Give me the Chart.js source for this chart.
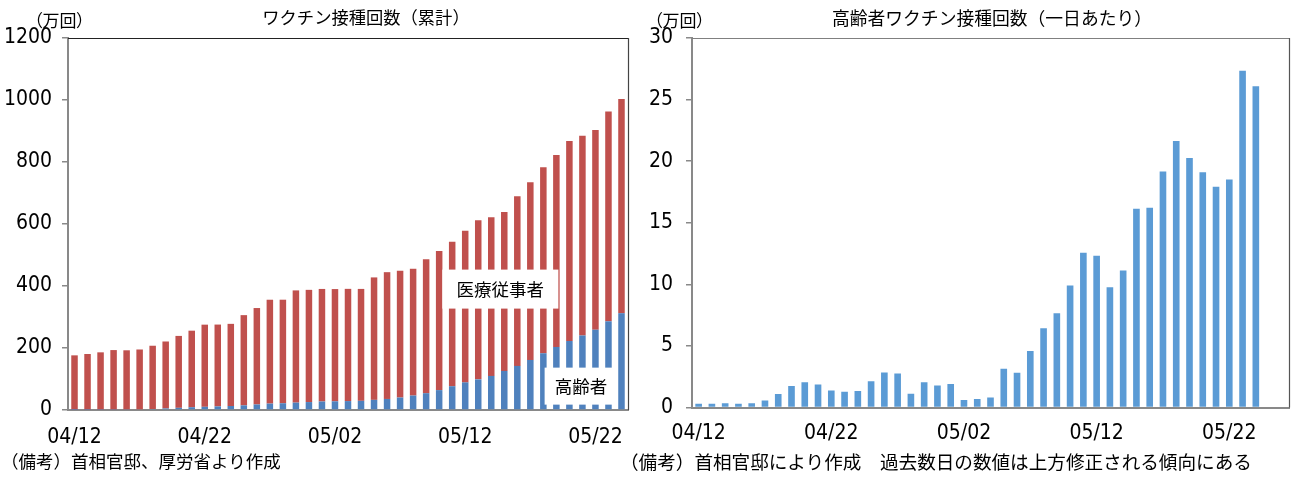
<!DOCTYPE html>
<html><head><meta charset="utf-8">
<script src="https://cdn.jsdelivr.net/npm/chart.js@4.4.0/dist/chart.umd.min.js"></script>
<style>
html,body{margin:0;padding:0;background:#fff;width:1300px;height:482px;overflow:hidden;position:relative;}
canvas{position:absolute;top:0;}
.t{position:absolute;font-family:"Noto Sans CJK JP",sans-serif;color:#000;white-space:nowrap;line-height:24px;height:24px;}
.c{text-align:center;width:500px;}
</style></head><body>
<canvas id="c1" width="650" height="482" style="left:0"></canvas>
<canvas id="c2" width="650" height="482" style="left:650px"></canvas>
<div class="t" style="left:34px;top:8px;font-size:17px;font-feature-settings:'palt'">（万回）</div>
<div class="t c" style="left:116px;top:5px;font-size:17.3px">ワクチン接種回数（累計）</div>
<div class="t" style="left:654px;top:8px;font-size:17px;font-feature-settings:'palt'">（万回）</div>
<div class="t c" style="left:742px;top:5px;font-size:17.8px">高齢者ワクチン接種回数（一日あたり）</div>
<div class="t" style="left:1px;top:449px;font-size:17.5px">（備考）首相官邸、厚労省より作成</div>
<div class="t" style="left:620px;top:449px;font-size:18.6px">（備考）首相官邸により作成　過去数日の数値は上方修正される傾向にある</div>
<script>
const dates = ["04/12","04/13","04/14","04/15","04/16","04/17","04/18","04/19","04/20","04/21",
  "04/22","04/23","04/24","04/25","04/26","04/27","04/28","04/29","04/30","05/01",
  "05/02","05/03","05/04","05/05","05/06","05/07","05/08","05/09","05/10","05/11",
  "05/12","05/13","05/14","05/15","05/16","05/17","05/18","05/19","05/20","05/21",
  "05/22","05/23","05/24","05/25","05/26"];
// cumulative (万回)
const elderlyCum = [0.3,0.6,1.0,1.3,1.6,2.2,3.3,5.0,7.0,8.9,
  10.3,11.6,12.9,15.0,17.9,20.7,21.8,23.8,25.6,27.5,
  28.1,28.8,29.6,32.7,35.6,40.2,46.6,54.2,64.2,76.7,
  89.1,98.8,110.0,126.1,142.3,161.5,183.1,203.4,222.5,240.4,
  258.9,286.2,312.3];
const medicalCum = [176,180,185,192,191,193,204,216,232,247,
  265,264,265,291,311,335,334,362,362,363,
  362,362,361,395,409,409,409,432,449,466,
  489,513,512,513,547,573,600,619,645,644,
  644,677,691];
// daily elderly (万回)
const elderlyDaily = [0.3,0.3,0.35,0.3,0.35,0.57,1.09,1.74,2.04,1.87,
  1.38,1.28,1.33,2.14,2.85,2.77,1.11,2.04,1.79,1.90,
  0.6,0.68,0.81,3.15,2.82,4.59,6.43,7.66,9.91,12.57,
  12.33,9.77,11.13,16.13,16.21,19.17,21.64,20.26,19.09,17.92,
  18.52,27.34,26.09];
const leftCategoryCount = 43;
const rightCategoryCount = 45;
const leftNames = ["高齢者","医療従事者"];

const tickFont = {family:'"Liberation Sans Narrow","DejaVu Sans Condensed",sans-serif', size:21};
const axisGray = '#898989';

function framePlugin(topColor, rightColor){
  return {id:'frame', afterDatasetsDraw(chart){
    const {ctx, chartArea:a} = chart;
    ctx.save(); ctx.lineWidth = 1.2;
    ctx.strokeStyle = topColor; ctx.beginPath(); ctx.moveTo(a.left, a.top+0.5); ctx.lineTo(a.right+1, a.top+0.5); ctx.stroke();
    ctx.strokeStyle = rightColor; ctx.beginPath(); ctx.moveTo(a.right+0.5, a.top); ctx.lineTo(a.right+0.5, a.bottom); ctx.stroke();
    ctx.restore();
  }};
}
function notesPlugin(items){
  return {id:'notes', afterDatasetsDraw(chart){
    const {ctx} = chart; const xs = chart.scales.x, ys = chart.scales.y;
    ctx.save();
    items.forEach(it=>{
      const cx = xs.getPixelForValue(it.x), cy = ys.getPixelForValue(it.y);
      ctx.fillStyle = '#fff'; ctx.fillRect(cx-it.w/2, cy-it.h/2, it.w, it.h);
      ctx.fillStyle = '#000'; ctx.font = '17.5px "Noto Sans CJK JP"';
      ctx.textAlign = 'center'; ctx.textBaseline = 'middle';
      ctx.fillText(it.text, cx, cy);
    });
    ctx.restore();
  }};
}
function xScale(height, pad){
  return {
    grid:{display:false},
    border:{display:true, color:axisGray, width:2},
    ticks:{autoSkip:false, maxRotation:0, minRotation:0, padding:pad, color:'#000', font:tickFont,
      callback(v,i){ return i % 10 === 0 ? this.getLabelForValue(v) : ''; }},
    afterFit(s){ s.height = height; }
  };
}
function yScale(max, step, width, pad){
  return {
    min:0, max:max,
    grid:{drawOnChartArea:false, drawTicks:true, tickLength:6, color:axisGray, lineWidth:1.5},
    border:{display:true, color:axisGray, width:2},
    ticks:{stepSize:step, padding:pad, color:'#000', font:tickFont, callback:v=>String(v)},
    afterFit(s){ s.width = width; }
  };
}

new Chart(document.getElementById('c1'), {
  type:'bar',
  data:{labels:dates.slice(0,leftCategoryCount), datasets:[
    {label:leftNames[0], data:elderlyCum, backgroundColor:'#4f81bd', stack:'s'},
    {label:leftNames[1], data:medicalCum, backgroundColor:'#c0504d', stack:'s'}
  ]},
  options:{
    responsive:false, animation:false, devicePixelRatio:1,
    layout:{padding:{left:0, right:22, top:38, bottom:0}},
    datasets:{bar:{barPercentage:0.5, categoryPercentage:1, borderWidth:0}},
    plugins:{legend:{display:false}, tooltip:{enabled:false}},
    scales:{ x:Object.assign(xScale(72,7),{stacked:true}), y:Object.assign(yScale(1200,200,68,10),{stacked:true}) }
  },
  plugins:[framePlugin('#222','#444'), notesPlugin([
    {text:'医療従事者', x:32.7, y:390, w:116, h:39},
    {text:'高齢者', x:38.9, y:77, w:73, h:37}
  ])]
});

new Chart(document.getElementById('c2'), {
  type:'bar',
  data:{labels:dates.slice(0,rightCategoryCount), datasets:[
    {label:'高齢者', data:elderlyDaily, backgroundColor:'#5b9bd5'}
  ]},
  options:{
    responsive:false, animation:false, devicePixelRatio:1,
    layout:{padding:{left:0, right:11, top:38, bottom:0}},
    datasets:{bar:{barPercentage:0.5, categoryPercentage:1, borderWidth:0}},
    plugins:{legend:{display:false}, tooltip:{enabled:false}},
    scales:{ x:xScale(74.5,5), y:yScale(30,5,42,13) }
  },
  plugins:[framePlugin('#808080','#555')]
});
</script>
</body></html>
